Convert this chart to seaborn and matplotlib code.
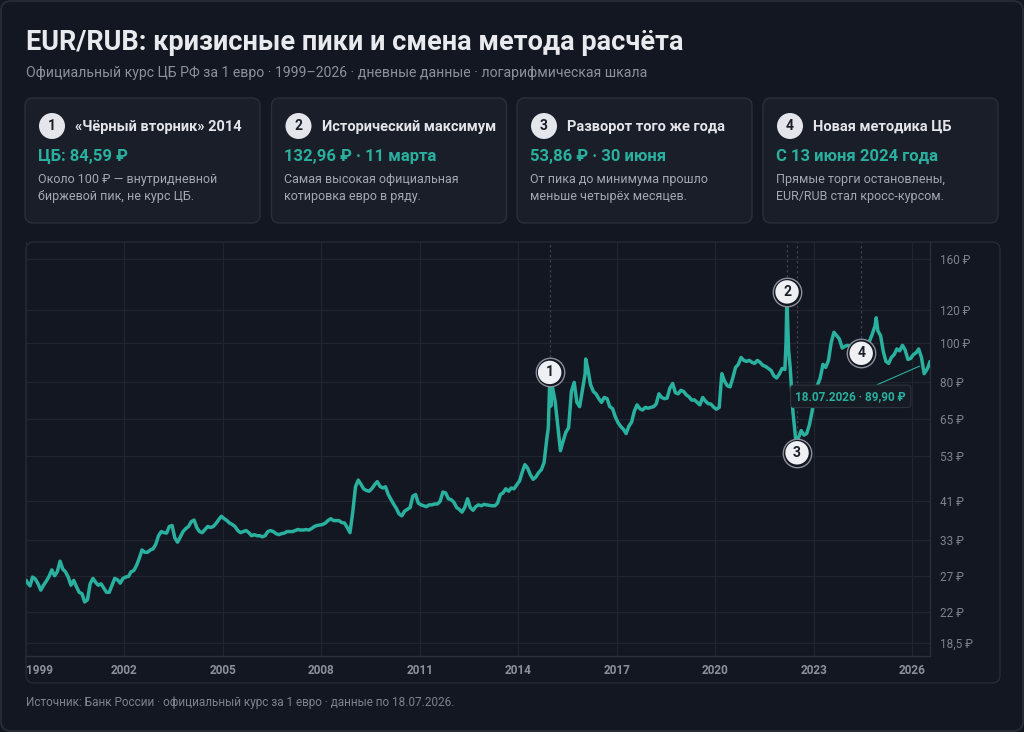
import numpy as np
import pandas as pd
import matplotlib
matplotlib.use('Agg')
import matplotlib.pyplot as plt
import matplotlib.dates as mdates
from matplotlib.patches import FancyBboxPatch, Circle
import seaborn as sns

# Месячные значения курса EUR/RUB (середина месяца), 1999-01 ... 2026-06
monthly_rates = [
    26.0, 25.5, 26.8, 26.5, 25.8, 24.9, 25.6, 26.2, 26.9, 27.9, 27.0, 27.6,   # 1999
    29.3, 28.0, 27.6, 26.8, 25.6, 26.3, 25.4, 24.6, 24.4, 23.3, 23.6, 25.8,   # 2000
    26.6, 26.0, 25.6, 25.8, 25.2, 24.6, 24.6, 25.6, 26.6, 26.4, 25.9, 26.6,   # 2001
    26.8, 26.9, 27.6, 27.8, 28.6, 29.8, 31.2, 30.8, 30.8, 31.2, 31.4, 32.2,   # 2002
    33.8, 34.6, 34.4, 34.3, 35.6, 35.8, 33.4, 32.6, 33.6, 34.6, 35.2, 35.6,   # 2003
    36.6, 36.9, 35.4, 34.6, 34.4, 35.0, 35.6, 35.4, 35.6, 36.2, 37.0, 37.7,   # 2004
    37.2, 36.8, 36.3, 36.0, 35.6, 34.8, 34.4, 34.6, 34.8, 34.4, 33.8, 34.0,   # 2005
    33.8, 33.8, 33.6, 33.8, 34.6, 34.8, 34.6, 34.2, 34.0, 34.2, 34.3, 34.6,   # 2006
    34.6, 34.6, 34.8, 35.0, 34.9, 34.9, 35.0, 34.9, 35.2, 35.6, 35.8, 35.9,   # 2007
    36.0, 36.3, 36.8, 37.2, 36.8, 36.8, 36.8, 36.4, 36.3, 35.4, 34.4, 38.5,   # 2008
    44.5, 46.2, 45.2, 44.0, 43.6, 43.4, 44.0, 45.0, 45.8, 44.6, 44.2, 44.5,   # 2009
    42.6, 41.4, 40.4, 39.4, 38.2, 37.8, 38.8, 39.2, 39.6, 42.2, 42.6, 40.6,   # 2010
    40.2, 40.0, 39.8, 40.2, 40.2, 40.4, 40.4, 41.0, 43.2, 43.0, 41.6, 41.4,   # 2011
    40.8, 39.6, 39.2, 38.6, 39.6, 41.6, 39.6, 39.0, 39.8, 40.2, 40.0, 40.3,   # 2012
    40.2, 40.1, 40.0, 40.0, 40.6, 42.6, 43.0, 44.0, 43.4, 44.2, 44.0, 45.0,   # 2013
    46.0, 48.4, 50.4, 49.4, 47.6, 46.4, 47.0, 48.2, 49.0, 51.0, 58.4, 78.0,   # 2014
    78.0, 72.0, 63.0, 54.5, 57.5, 60.5, 62.0, 76.0, 80.0, 71.5, 69.8, 76.5,   # 2015
    84.0, 86.0, 79.0, 76.0, 75.0, 73.0, 71.5, 73.5, 73.0, 69.8, 69.0, 66.0,   # 2016
    63.8, 62.4, 61.5, 60.0, 62.5, 64.0, 68.0, 70.5, 69.0, 68.5, 69.5, 69.2,   # 2017
    69.5, 69.8, 70.8, 75.0, 73.5, 73.0, 73.2, 77.5, 79.5, 75.5, 75.0, 76.5,   # 2018
    76.0, 74.5, 73.8, 72.4, 72.5, 71.5, 70.5, 73.5, 72.0, 71.0, 70.8, 69.6,   # 2019
    68.8, 69.5, 84.0, 80.5, 78.5, 78.0, 82.0, 87.0, 88.5, 92.0, 90.5, 90.0,   # 2020
    90.5, 89.5, 89.0, 90.5, 89.5, 88.0, 87.5, 86.5, 85.5, 83.0, 82.0, 83.8,   # 2021
    86.5, 86.0, 117.0, 87.0, 68.0, 58.0, 58.5, 61.0, 59.5, 60.0, 63.0, 68.0,  # 2022
    75.0, 79.0, 82.0, 88.5, 87.0, 90.5, 100.0, 106.0, 104.0, 102.0, 97.0, 98.0,  # 2023
    98.5, 98.0, 99.5, 99.5, 97.5, 94.5, 95.0, 98.0, 101.0, 105.0, 110.0, 107.0,  # 2024
    104.0, 95.0, 90.0, 89.0, 92.0, 93.5, 96.5, 95.5, 98.5, 96.0, 91.0, 91.5,  # 2025
    93.5, 94.5, 96.5, 92.0, 84.0, 86.0,                                       # 2026
]

# Отдельные дневные точки (пики, минимумы, последние данные)
extra_dates = ['1999-01-04', '2014-12-01', '2014-12-16', '2014-12-29', '2016-01-21',
               '2022-02-28', '2022-03-11', '2022-03-28', '2022-06-30', '2024-06-13',
               '2024-11-27', '2026-07-01', '2026-07-18']
extra_rates = [26.3, 62.0, 84.59, 70.0, 91.2,
               100.0, 132.96, 96.0, 53.86, 94.2,
               115.0, 87.5, 89.90]

# Отметки 1-4
marker_labels = ['1', '2', '3', '4']
marker_dates = ['2014-12-16', '2022-03-11', '2022-06-30', '2024-06-13']
marker_rates = [84.59, 132.96, 53.86, 94.2]

card_titles = ['«Чёрный вторник» 2014', 'Исторический максимум',
               'Разворот того же года', 'Новая методика ЦБ']
card_values = ['ЦБ: 84,59 ₽', '132,96 ₽ · 11 марта', '53,86 ₽ · 30 июня', 'С 13 июня 2024 года']
card_notes = [['Около 100 ₽ — внутридневной', 'биржевой пик, не курс ЦБ.'],
              ['Самая высокая официальная', 'котировка евро в ряду.'],
              ['От пика до минимума прошло', 'меньше четырёх месяцев.'],
              ['Прямые торги остановлены,', 'EUR/RUB стал кросс-курсом.']]

y_ticks = [18.5, 22, 27, 33, 41, 53, 65, 80, 100, 120, 160]
y_ticklabels = ['18,5 ₽', '22 ₽', '27 ₽', '33 ₽', '41 ₽', '53 ₽', '65 ₽', '80 ₽', '100 ₽', '120 ₽', '160 ₽']
x_years = list(range(1999, 2027, 3))

# Цвета
BG = '#131722'
CARD = '#1a1e29'
BORDER = '#2a2f3b'
GRID = '#20252f'
TEAL = '#2ab09e'
MUTED = '#7c828e'

sns.set_style('dark')
plt.rcParams['font.family'] = ['Roboto', 'DejaVu Sans']

month_dates = pd.date_range('1999-01-01', periods=len(monthly_rates), freq='MS') + pd.Timedelta(days=14)
df = pd.concat([
    pd.DataFrame({'date': month_dates, 'rate': monthly_rates}),
    pd.DataFrame({'date': pd.to_datetime(extra_dates), 'rate': extra_rates}),
]).sort_values('date').reset_index(drop=True)

fig = plt.figure(figsize=(10.24, 7.32), dpi=100, facecolor=BG)

# Фоновый слой в пикселях: рамки, карточки, заголовки
bg = fig.add_axes([0, 0, 1, 1], zorder=0)
bg.set_xlim(0, 1024)
bg.set_ylim(732, 0)
bg.axis('off')

bg.add_patch(FancyBboxPatch((1, 1), 1022, 730, boxstyle='round,pad=0,rounding_size=10',
                            fc=BG, ec='#2a2e39', lw=1.2))
bg.text(26, 49.5, 'EUR/RUB: кризисные пики и смена метода расчёта', fontsize=19.5,
        fontweight='bold', color='#e8eaee', va='baseline')
bg.text(26, 77.5, 'Официальный курс ЦБ РФ за 1 евро · 1999–2026 · дневные данные · логарифмическая шкала',
        fontsize=10.1, color='#8b919c', va='baseline')

card_x = [25, 271.5, 517, 763]
for i, x0 in enumerate(card_x):
    bg.add_patch(FancyBboxPatch((x0, 98), 235, 125, boxstyle='round,pad=0,rounding_size=8',
                                fc=CARD, ec=BORDER, lw=1))
    bg.add_patch(Circle((x0 + 27, 126), 13, fc='#e4e6eb', ec='none'))
    bg.text(x0 + 27, 126.5, marker_labels[i], fontsize=10, fontweight='bold', color='#1a1e29',
            ha='center', va='center')
    bg.text(x0 + 50, 131, card_titles[i], fontsize=10.5, fontweight='bold', color='#e3e5ea', va='baseline')
    bg.text(x0 + 13, 160.5, card_values[i], fontsize=12, fontweight='bold', color=TEAL, va='baseline')
    bg.text(x0 + 13, 183, card_notes[i][0], fontsize=9, color='#a3a8b3', va='baseline')
    bg.text(x0 + 13, 200, card_notes[i][1], fontsize=9, color='#a3a8b3', va='baseline')

bg.add_patch(FancyBboxPatch((26, 242), 974, 441, boxstyle='round,pad=0,rounding_size=8',
                            fc=BG, ec='#262b36', lw=1))
bg.text(26, 706, 'Источник: Банк России · официальный курс за 1 евро · данные по 18.07.2026.',
        fontsize=8.5, color=MUTED, va='baseline')

# График
ax = fig.add_axes([26 / 1024, 1 - 656 / 732, 904 / 1024, 414 / 732], zorder=2)
ax.patch.set_alpha(0)

sns.lineplot(data=df, x='date', y='rate', ax=ax, color=TEAL, linewidth=2.5, zorder=3)

ax.set_yscale('log')
ax.set_ylim(17.2, 176)
ax.set_xlim(pd.Timestamp('1999-01-01'), pd.Timestamp('2026-07-19'))
ax.set_yticks(y_ticks)
ax.set_yticklabels(y_ticklabels)
ax.yaxis.set_minor_locator(matplotlib.ticker.NullLocator())
ax.yaxis.tick_right()
ax.set_xticks([pd.Timestamp(f'{y}-01-01') for y in x_years])
ax.set_xticklabels([str(y) for y in x_years])
ax.get_xticklabels()[0].set_horizontalalignment('left')
ax.tick_params(axis='y', length=0, pad=7, labelsize=8.5, labelcolor=MUTED)
ax.tick_params(axis='x', length=0, pad=6, labelsize=8.5, labelcolor='#8b919c')
for lab in ax.get_xticklabels():
    lab.set_fontweight('bold')
ax.set_xlabel('')
ax.set_ylabel('')
ax.grid(True, color=GRID, lw=0.9)
for side in ['left', 'top']:
    ax.spines[side].set_visible(False)
for side in ['right', 'bottom']:
    ax.spines[side].set_color(BORDER)
    ax.spines[side].set_linewidth(1)

# Вертикальные пунктиры и номера событий
m_dates = pd.to_datetime(marker_dates)
ax.vlines(m_dates, marker_rates, 176, colors='#3a404c', linestyles=(0, (2, 2)), lw=0.9, zorder=1)
ax.scatter(m_dates, marker_rates, s=420, fc=BG, ec='#8a8f99', lw=1.0, zorder=5)
ax.scatter(m_dates, marker_rates, s=285, fc='#eef0f3', ec='none', zorder=6)
for lab, d, r in zip(marker_labels, m_dates, marker_rates):
    ax.text(d, r, lab, fontsize=10, fontweight='bold', color='#1a1e29', ha='center', va='center', zorder=7)

# Подпись последней точки
last = df.iloc[-1]
ax.annotate('18.07.2026 · 89,90 ₽', xy=(last['date'], last['rate']), xytext=(-57, -25),
            textcoords='offset points', ha='center', va='center', fontsize=8.5, fontweight='bold',
            color=TEAL, zorder=8,
            bbox=dict(boxstyle='round,pad=0.4,rounding_size=0.3', fc='#161b24', ec='#2c323d', lw=0.8),
            arrowprops=dict(arrowstyle='-', color=TEAL, lw=0.8, shrinkA=0, shrinkB=8))

fig.savefig('out.png', dpi=100, facecolor=BG)
